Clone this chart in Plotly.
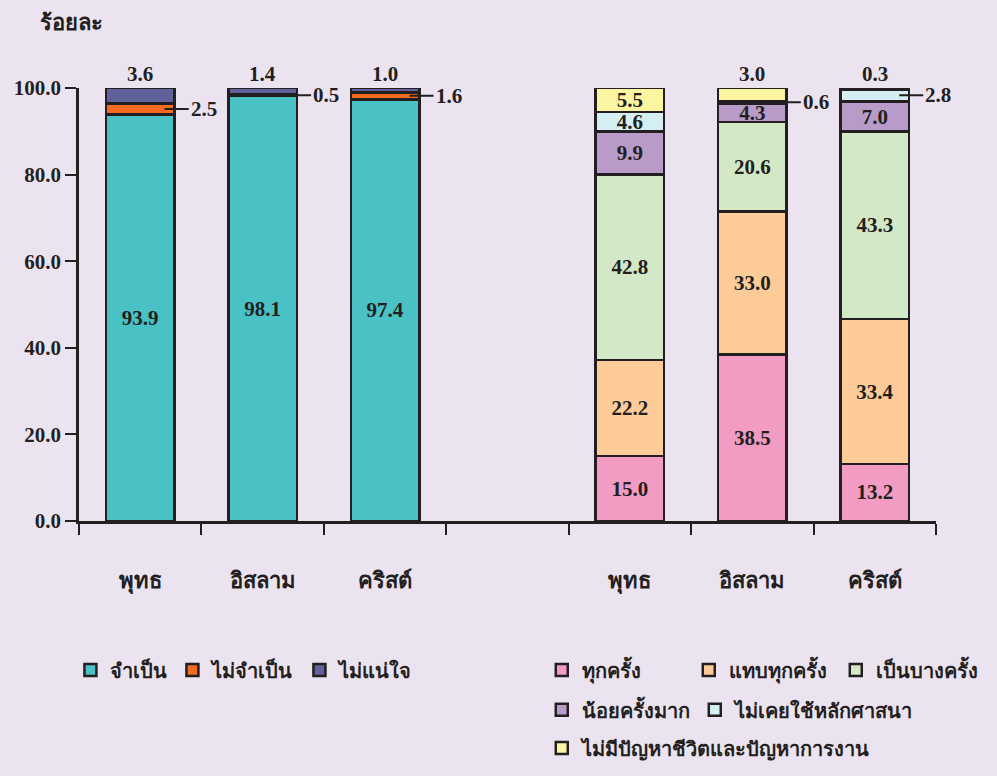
import plotly.graph_objects as go

# slot positions on the shared x axis (slot 4 stays empty as a gap)
x_left = [1, 2, 3]
x_right = [5, 6, 7]
religions = ["พุทธ", "อิสลาม", "คริสต์"]

# left group: จำเป็นไหม
need_names = ["จำเป็น", "ไม่จำเป็น", "ไม่แน่ใจ"]
need_vals = [
    [93.9, 98.1, 97.4],
    [2.5, 0.5, 1.6],
    [3.6, 1.4, 1.0],
]
need_colors = ["#4AC1C5", "#F26B21", "#62629A"]

# right group: ใช้หลักศาสนาบ่อยแค่ไหน
freq_names = ["ทุกครั้ง", "แทบทุกครั้ง", "เป็นบางครั้ง", "น้อยครั้งมาก",
              "ไม่เคยใช้หลักศาสนา", "ไม่มีปัญหาชีวิตและปัญหาการงาน"]
freq_vals = [
    [15.0, 38.5, 13.2],
    [22.2, 33.0, 33.4],
    [42.8, 20.6, 43.3],
    [9.9, 4.3, 7.0],
    [4.6, 0.6, 2.8],
    [5.5, 3.0, 0.3],
]
freq_colors = ["#F29BC3", "#FDCB98", "#D2E8C6", "#B99BC9", "#D5EEF3", "#FBF4A0"]
freq_legends = ["legend2", "legend2", "legend2", "legend3", "legend3", "legend4"]

INK = "#231F20"
BG = "#EBE3F0"
NUM_FONT = "Liberation Serif"
THAI_FONT = "Liberation Serif, DejaVu Sans, Noto Sans, sans-serif"
BAR_W = 0.56
SMALL = 4.0

fig = go.Figure()
annotations = []


def add_group(xs, names, vals, colors, legends):
    n_bars = len(xs)
    bottoms = [0.0] * n_bars
    for k, (name, row, color) in enumerate(zip(names, vals, colors)):
        text = [("%.1f" % v) if v >= SMALL else "" for v in row]
        fig.add_trace(go.Bar(
            x=xs, y=row, name=name, width=BAR_W,
            marker=dict(color=color, line=dict(color=INK, width=2.5)),
            text=text, textposition="inside", insidetextanchor="middle",
            textfont=dict(family=NUM_FONT, size=21, color=INK, weight="bold"),
            legend=legends[k], hoverinfo="skip",
        ))
        for i, v in enumerate(row):
            if v < SMALL:
                is_top = k == len(names) - 1
                if is_top:
                    annotations.append(dict(
                        x=xs[i], y=100, text="%.1f" % v, showarrow=False,
                        yanchor="bottom", yshift=0,
                        font=dict(family=NUM_FONT, size=21, color=INK, weight="bold")))
                else:
                    annotations.append(dict(
                        x=xs[i] + BAR_W / 2 - 0.08, y=bottoms[i] + v / 2,
                        text="%.1f" % v, showarrow=True, arrowhead=0,
                        arrowwidth=2, arrowcolor=INK, ax=24, ay=0,
                        xanchor="left",
                        font=dict(family=NUM_FONT, size=21, color=INK, weight="bold")))
            bottoms[i] += v


add_group(x_left, need_names, need_vals, need_colors, ["legend"] * 3)
add_group(x_right, freq_names, freq_vals, freq_colors, freq_legends)

annotations.append(dict(
    xref="paper", yref="paper", x=-0.048, y=1.152, text="ร้อยละ",
    showarrow=False, xanchor="left", yanchor="middle",
    font=dict(family=THAI_FONT, size=22, color=INK, weight="bold")))

legend_font = dict(family=THAI_FONT, size=20, color=INK, weight="bold")
leg_common = dict(orientation="h", bgcolor="rgba(0,0,0,0)", font=legend_font,
                  xanchor="left", yanchor="middle", itemclick=False,
                  traceorder="normal")

fig.update_layout(
    barmode="stack",
    width=997, height=776,
    margin=dict(l=79, r=61, t=88, b=255, autoexpand=False),
    paper_bgcolor=BG, plot_bgcolor=BG,
    showlegend=True,
    legend=dict(x=-0.01, y=-0.344, **leg_common),
    legend2=dict(x=0.54, y=-0.344, entrywidth=102, **leg_common),
    legend3=dict(x=0.54, y=-0.436, **leg_common),
    legend4=dict(x=0.54, y=-0.524, **leg_common),
    uniformtext=dict(minsize=21, mode="show"),
    annotations=annotations,
    xaxis=dict(
        range=[0.5, 7.5], tickvals=x_left + x_right, ticktext=religions * 2,
        ticks="", ticklabelstandoff=38,
        tickfont=dict(family=THAI_FONT, size=22, color=INK, weight="bold"),
        showline=True, linecolor=INK, linewidth=2.5, showgrid=False, zeroline=False,
        minor=dict(tickvals=[0.5 + i for i in range(8)], ticks="outside",
                   ticklen=11, tickwidth=2, tickcolor=INK, showgrid=False),
    ),
    yaxis=dict(
        range=[0, 100], tickvals=[0, 20, 40, 60, 80, 100], tickformat=".1f",
        ticks="outside", ticklen=11, tickwidth=2, tickcolor=INK,
        tickfont=dict(family=NUM_FONT, size=21, color=INK, weight="bold"),
        showline=True, linecolor=INK, linewidth=2.5, showgrid=False, zeroline=False,
    ),
)

# drop the browser's default page margin so the figure sits at the corner
fig.write_html("out.html",
               config={"displayModeBar": False},
               post_script="document.body.style.margin='0';"
                           "document.body.style.background='%s';" % BG)
